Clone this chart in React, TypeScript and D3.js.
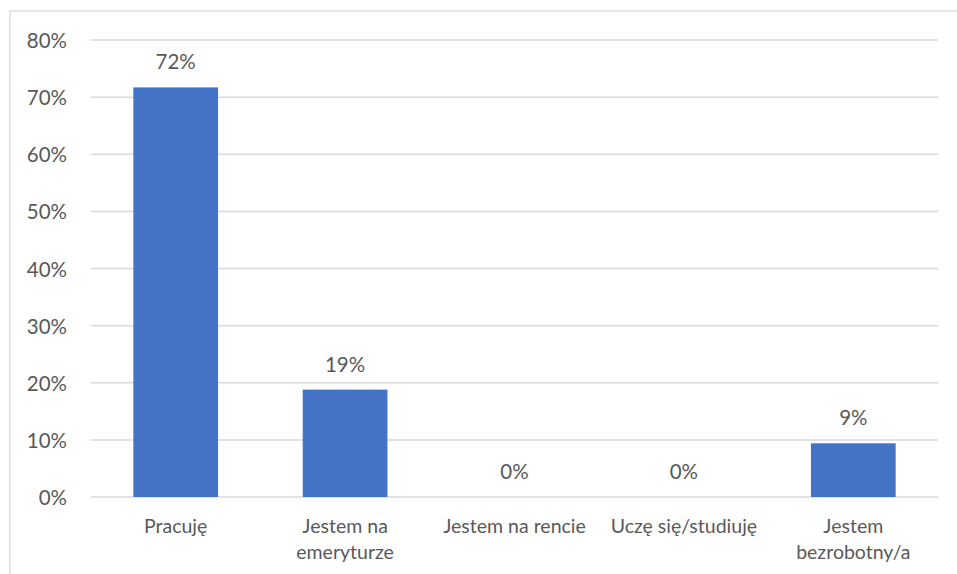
import React from "react";
import * as d3 from "d3";

const categories: string[][] = [
  ["Pracuję"],
  ["Jestem na", "emeryturze"],
  ["Jestem na rencie"],
  ["Uczę się/studiuję"],
  ["Jestem", "bezrobotny/a"],
];
const values: number[] = [0.717, 0.188, 0, 0, 0.094];
const valueLabels: string[] = ["72%", "19%", "0%", "0%", "9%"];
const yTicks: number[] = [0, 0.1, 0.2, 0.3, 0.4, 0.5, 0.6, 0.7, 0.8];

const W = 957;
const H = 574;
const left = 91;
const right = 938;
const top = 40;
const bottom = 497;
const font = "Lato, 'Open Sans', sans-serif";
const textColor = "#595959";

export default function App() {
  const x = d3
    .scaleBand<number>()
    .domain(d3.range(categories.length))
    .range([left, right])
    .paddingInner(0.5)
    .paddingOuter(0.25);
  const y = d3.scaleLinear().domain([0, 0.8]).range([bottom, top]);
  const fmt = d3.format(".0%");

  return (
    <svg
      width={W}
      height={H}
      style={{ position: "absolute", left: 0, top: 0, background: "#fff" }}
      fontFamily={font}
    >
      <rect x={10} y={11} width={W} height={H} fill="#fff" stroke="#d9d9d9" strokeWidth={1.3} />
      {yTicks.map((t) => (
        <g key={t}>
          <line x1={left} x2={right} y1={y(t)} y2={y(t)} stroke="#d9d9d9" strokeWidth={1.5} />
          <text
            x={67}
            y={y(t)}
            textAnchor="end"
            dominantBaseline="central"
            fontSize={20.5}
            fill={textColor}
          >
            {fmt(t)}
          </text>
        </g>
      ))}
      {values.map((v, i) => (
        <g key={i}>
          {v > 0 && (
            <rect
              x={x(i)!}
              y={y(v)}
              width={x.bandwidth()}
              height={bottom - y(v)}
              fill="#4472C4"
            />
          )}
          <text
            x={x(i)! + x.bandwidth() / 2}
            y={y(v) - 26}
            textAnchor="middle"
            dominantBaseline="central"
            fontSize={20.5}
            fill={textColor}
          >
            {valueLabels[i]}
          </text>
          {categories[i].map((line, j) => (
            <text
              key={j}
              x={x(i)! + x.bandwidth() / 2}
              y={525 + j * 26}
              textAnchor="middle"
              dominantBaseline="central"
              fontSize={19.5}
              fill={textColor}
            >
              {line}
            </text>
          ))}
        </g>
      ))}
    </svg>
  );
}
